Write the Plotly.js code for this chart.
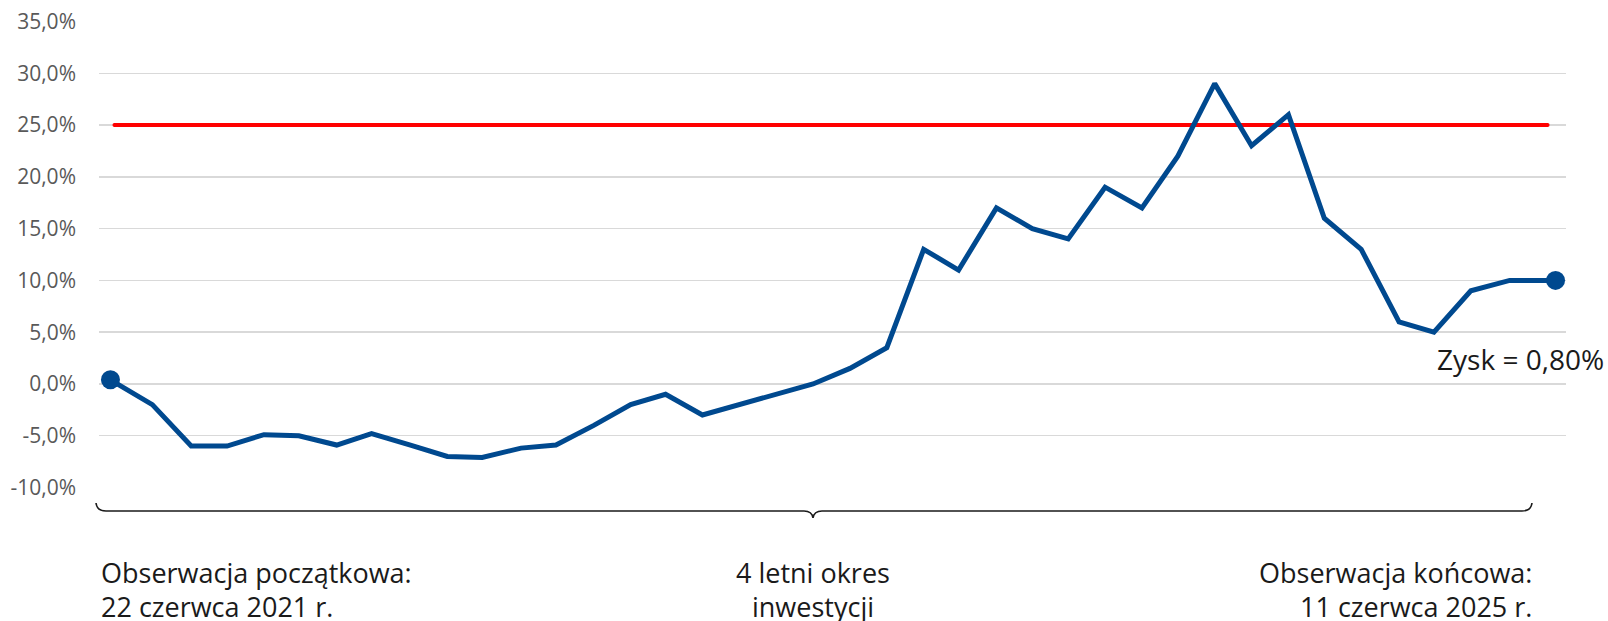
<!DOCTYPE html>
<html>
<head>
<meta charset="utf-8">
<script src="https://cdn.plot.ly/plotly-3.0.1.min.js"></script>
<style>
  html, body { margin: 0; padding: 0; background: #ffffff; }
  #chart { width: 1608px; height: 621px; }
  .scatterlayer path.js-line { stroke-linecap: round !important; }
</style>
</head>
<body>
<div id="chart"></div>
<script>
const obsDates = [
  '2021-06-22','2021-08-03','2021-09-11','2021-10-17','2021-11-23','2021-12-28',
  '2022-02-04','2022-03-11','2022-04-19','2022-05-26','2022-06-30','2022-08-08',
  '2022-09-12','2022-10-20','2022-11-26','2022-12-31','2023-02-06','2023-03-15',
  '2023-04-21','2023-05-28','2023-07-04','2023-08-10','2023-09-16','2023-10-21',
  '2023-11-28','2024-01-03','2024-02-08','2024-03-16','2024-04-22','2024-05-28',
  '2024-07-04','2024-08-10','2024-09-16','2024-10-22','2024-11-28','2025-01-05',
  '2025-02-09','2025-03-18','2025-04-26','2025-06-11'
];
// Index performance, %
const perfValues = [
  0.4, -2.0, -6.0, -6.0, -4.9, -5.0,
  -5.9, -4.8, -5.9, -7.0, -7.1, -6.2,
  -5.9, -4.0, -2.0, -1.0, -3.0, -2.0,
  -1.0, 0.0, 1.5, 3.5, 13.0, 11.0,
  17.0, 15.0, 14.0, 19.0, 17.0, 22.0,
  29.0, 23.0, 26.0, 16.0, 13.0, 6.0,
  5.0, 9.0, 10.0, 10.0
];
// Barrier level, %
const barrierDates = ['2021-06-26', '2025-06-03'];
const barrierValues = [25, 25];

const tickVals = [-10, -5, 0, 5, 10, 15, 20, 25, 30, 35];
const tickLabels = ['-10,0%', '-5,0%', '0,0%', '5,0%', '10,0%', '15,0%', '20,0%', '25,0%', '30,0%', '35,0%'];

const profitLabel = 'Zysk = 0,80%';
const startLabel = ['Obserwacja początkowa:', '22 czerwca 2021 r.'];
const midLabel = ['4 letni okres', 'inwestycji'];
const endLabel = ['Obserwacja końcowa:', '11 czerwca 2025 r.'];

const blue = '#00498F';
const W = 1608, H = 621;
const mL = 99, mR = 42, mT = 21, mB = 133;
const pw = W - mL - mR, ph = H - mT - mB;
const px = x => (x - mL) / pw;
const py = y => (H - mB - y) / ph;

const firstLast = [0, perfValues.length - 1];

const traces = [
  {
    x: barrierDates, y: barrierValues, type: 'scatter', mode: 'lines',
    line: { color: '#FF0000', width: 4 }, hoverinfo: 'skip', showlegend: false
  },
  {
    x: obsDates, y: perfValues, type: 'scatter', mode: 'lines',
    line: { color: blue, width: 5 }, hoverinfo: 'skip', showlegend: false
  },
  {
    x: firstLast.map(i => obsDates[i]), y: firstLast.map(i => perfValues[i]),
    type: 'scatter', mode: 'markers',
    marker: { color: blue, size: 19 }, hoverinfo: 'skip', showlegend: false
  }
];

const textFont = { family: 'Open Sans, Noto Sans, sans-serif', size: 27, color: '#1a1a1a' };

function ann(text, x, y, xanchor, size) {
  return { text, xref: 'paper', yref: 'paper', x, y, xanchor, yanchor: 'middle',
           showarrow: false, font: Object.assign({}, textFont, size ? { size } : {}) };
}

const bracePath = [
  `M ${px(96)},${py(503)}`,
  `Q ${px(97)},${py(511)} ${px(106)},${py(511)}`,
  `L ${px(804)},${py(511)}`,
  `Q ${px(812)},${py(511)} ${px(813)},${py(518)}`,
  `Q ${px(814)},${py(511)} ${px(822)},${py(511)}`,
  `L ${px(1522)},${py(511)}`,
  `Q ${px(1531)},${py(511)} ${px(1532)},${py(503)}`
].join(' ');

const layout = {
  width: W, height: H,
  margin: { l: mL, r: mR, t: mT, b: mB, pad: 0 },
  paper_bgcolor: '#ffffff', plot_bgcolor: '#ffffff',
  showlegend: false,
  xaxis: {
    type: 'date', range: ['2021-06-10 12:00', '2025-06-21 12:00'],
    showgrid: false, zeroline: false, showticklabels: false, showline: false, ticks: ''
  },
  yaxis: {
    range: [-10.05, 35.05], tickvals: tickVals, ticktext: tickLabels,
    showgrid: true, gridcolor: '#D9D9D9', gridwidth: 1.5,
    zeroline: false, showline: false, ticks: '',
    ticklabelstandoff: 22,
    tickfont: { family: 'Open Sans, Noto Sans, sans-serif', size: 21, color: '#595959' }
  },
  shapes: [
    { type: 'path', xref: 'paper', yref: 'paper', path: bracePath,
      line: { color: '#1a1a1a', width: 1.6 } }
  ],
  annotations: [
    ann(profitLabel, px(1606), py(359), 'right', 28),
    ann(startLabel[0], px(99), py(572), 'left'),
    ann(startLabel[1], px(99), py(606), 'left'),
    ann(midLabel[0], px(813), py(572), 'center'),
    ann(midLabel[1], px(813), py(606), 'center'),
    ann(endLabel[0], px(1534), py(572), 'right'),
    ann(endLabel[1], px(1534), py(606), 'right')
  ]
};

Plotly.newPlot('chart', traces, layout, { staticPlot: true, displayModeBar: false });
</script>
</body>
</html>
